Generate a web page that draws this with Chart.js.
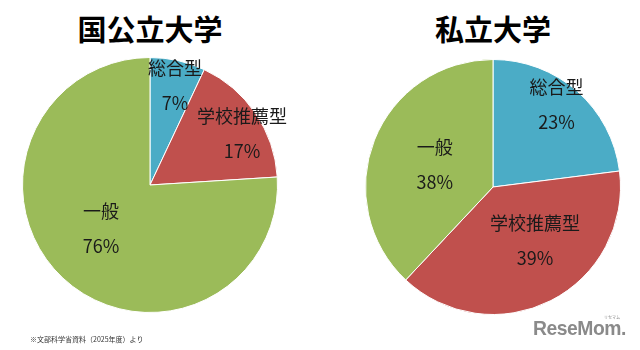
<!DOCTYPE html>
<html lang="ja">
<head>
<meta charset="utf-8">
<script src="https://cdn.jsdelivr.net/npm/chart.js@4/dist/chart.umd.min.js"></script>
<style>
  html, body { margin: 0; padding: 0; background: #fff; }
  body { width: 640px; height: 350px; position: relative; overflow: hidden; font-family: "Noto Sans CJK JP", "Noto Sans", sans-serif; }
  .title { position: absolute; top: 8px; font-size: 29px; font-weight: bold; color: #000; text-align: center; width: 260px; line-height: 40px; }
  .pie { position: absolute; }
  .note { position: absolute; left: 30px; top: 334px; font-size: 7px; color: #333; }
  .logo { position: absolute; left: 533px; top: 316px; color: #8a8a8a; font-family: "Liberation Sans", sans-serif; font-weight: bold; font-size: 21px; letter-spacing: -0.5px; transform: scaleX(0.92); transform-origin: left top; white-space: nowrap; }
  .kana { position: absolute; left: 604px; top: 314px; font-size: 4px; color: #8a8a8a; }
</style>
</head>
<body>
<div class="title" style="left:20px">国公立大学</div>
<div class="title" style="left:363px">私立大学</div>
<canvas id="nationalPie" class="pie" width="320" height="300" style="left:0px;top:35px"></canvas>
<canvas id="privatePie" class="pie" width="300" height="300" style="left:340px;top:37px"></canvas>
<div class="note">※文部科学省資料（2025年度）より</div>
<div class="logo">ReseMom.</div>
<div class="kana">リセマム</div>

<script>
const categories = ['総合型', '学校推薦型', '一般'];
const nationalShares = [7, 17, 76];
const privateShares = [23, 39, 38];
const sliceColors = ['#4bacc6', '#c0504d', '#9bbb59'];

// writes "category" and "nn%" inside each slice, at a chosen fraction of the radius
const sliceLabels = {
  id: 'sliceLabels',
  afterDatasetsDraw(chart, args, opts) {
    const ctx = chart.ctx;
    const meta = chart.getDatasetMeta(0);
    const values = chart.data.datasets[0].data;
    ctx.save();
    ctx.fillStyle = '#1a1a1a';
    ctx.font = '18px "Noto Sans CJK JP", sans-serif';
    ctx.textAlign = 'center';
    ctx.textBaseline = 'middle';
    meta.data.forEach((arc, i) => {
      const p = arc.getProps(['x', 'y', 'startAngle', 'endAngle', 'outerRadius'], true);
      const mid = (p.startAngle + p.endAngle) / 2 + (opts.shift[i] || 0);
      const r = p.outerRadius * opts.radius[i];
      const cx = p.x + Math.cos(mid) * r;
      const cy = p.y + Math.sin(mid) * r;
      ctx.fillText(chart.data.labels[i], cx, cy - 17);
      ctx.fillText(values[i] + '%', cx, cy + 18);
    });
    ctx.restore();
  }
};

function makePie(id, shares, padding, radius, shift) {
  return new Chart(document.getElementById(id), {
    type: 'pie',
    data: {
      labels: categories,
      datasets: [{
        data: shares,
        backgroundColor: sliceColors,
        borderColor: '#ffffff',
        borderWidth: 1
      }]
    },
    options: {
      responsive: false,
      animation: false,
      events: [],
      layout: { padding: padding },
      plugins: {
        legend: { display: false },
        tooltip: { enabled: false },
        sliceLabels: { radius: radius, shift: shift }
      }
    },
    plugins: [sliceLabels]
  });
}

makePie('nationalPie', nationalShares, { left: 22, right: 42, top: 22, bottom: 22 },
  [0.81, 0.83, 0.51], [0.025, 0.08, 0.1]);
makePie('privatePie', privateShares, { left: 25, right: 19, top: 22, bottom: 22 },
  [0.82, 0.53, 0.49], [-0.07, -0.2, -0.01]);
</script>
</body>
</html>
